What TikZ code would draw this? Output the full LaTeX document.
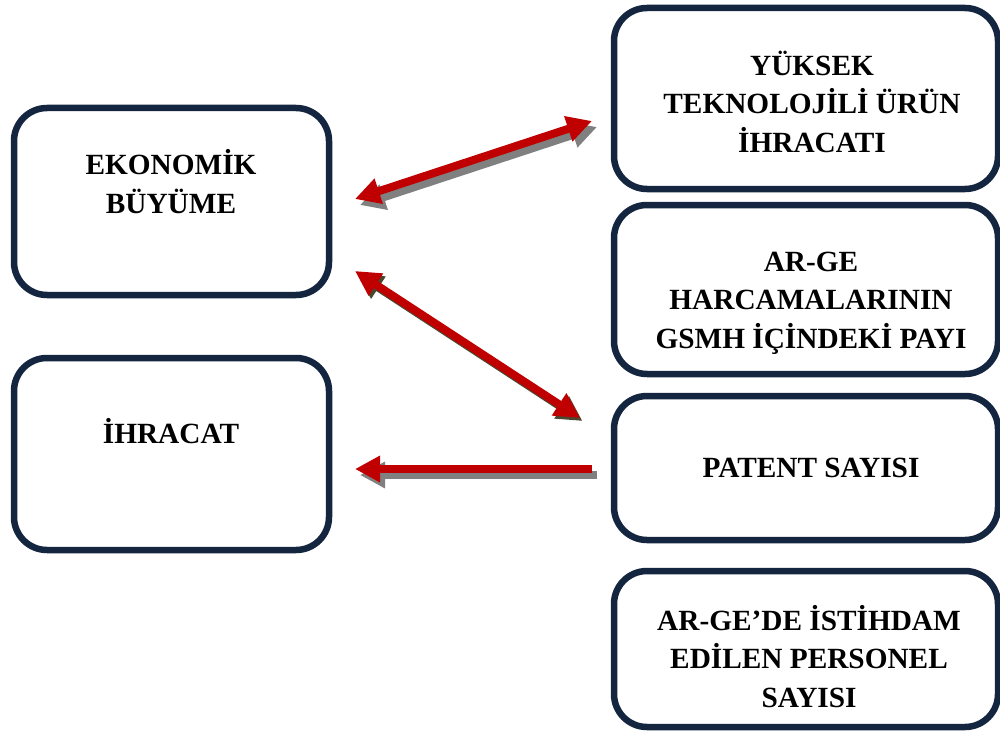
\documentclass[tikz,border=0pt]{standalone}
\usepackage{fontspec}
\setmainfont{Liberation Serif}
\usetikzlibrary{arrows.meta}
\definecolor{navy}{HTML}{13253F}
\definecolor{arrred}{HTML}{C00000}
\definecolor{shgrey}{HTML}{808080}
\definecolor{shdark}{HTML}{4B4630}
\begin{document}
\begin{tikzpicture}[x=1pt,y=-1pt,
  box/.style={draw=navy,line width=6.5pt,rounded corners=33pt,fill=white,inner sep=0pt},
  lbl/.style={font=\bfseries\fontsize{29.3}{38.5}\selectfont,align=center,inner sep=0pt,anchor=base},
  >={Triangle[length=25pt,width=25pt]},
  arr/.style={draw=arrred,line width=8pt},
  shgr/.style={draw=shgrey,line width=8pt,transform canvas={shift={(5pt,-6pt)}}},
  shdk/.style={draw=shdark,line width=8pt,transform canvas={shift={(2.5pt,-3pt)}}}
]
\useasboundingbox (0,0) rectangle (1000,733);
\fill[white] (0,0) rectangle (1000,733);

% boxes
\node[box,minimum width=315pt,minimum height=187pt] (eko) at (171.5,201.5) {};
\node[box,minimum width=315pt,minimum height=192pt] (ihr) at (171.5,454) {};
\node[box,minimum width=384pt,minimum height=181pt] (yuk) at (806,98.5) {};
\node[box,minimum width=384pt,minimum height=169pt] (arg) at (806,289.5) {};
\node[box,minimum width=384pt,minimum height=144pt] (pat) at (806,468) {};
\node[box,minimum width=384pt,minimum height=156pt] (per) at (806,649) {};

% labels (anchor = baseline of last line)
\node[lbl] (tEko) at (171,213) {EKONOMİK\\BÜYÜME};
\node[lbl] (tIhr) at (171,443) {İHRACAT};
\node[lbl] (tYuk) at (812,152) {YÜKSEK\\TEKNOLOJİLİ ÜRÜN\\İHRACATI};
\node[lbl] (tArg) at (811,348) {AR-GE\\HARCAMALARININ\\GSMH İÇİNDEKİ PAYI};
\node[lbl] (tPat) at (811,477) {PATENT SAYISI};
\node[lbl] (tPer) at (809,707) {AR-GE’DE İSTİHDAM\\EDİLEN PERSONEL\\SAYISI};

% arrow end points
\coordinate (a1) at (355,199);
\coordinate (b1) at (592,121);
\coordinate (a2) at (355,271);
\coordinate (b2) at (580,418);
\coordinate (a3) at (592,469);
\coordinate (b3) at (355,469);

% shadows
\draw[shgr,<->] (a1) -- (b1);
\draw[shdk,<->] (a2) -- (b2);
\draw[shgr,->] (a3) -- (b3);
% arrows
\draw[arr,<->] (a1) -- (b1);
\draw[arr,<->] (a2) -- (b2);
\draw[arr,->] (a3) -- (b3);
\end{tikzpicture}
\end{document}
